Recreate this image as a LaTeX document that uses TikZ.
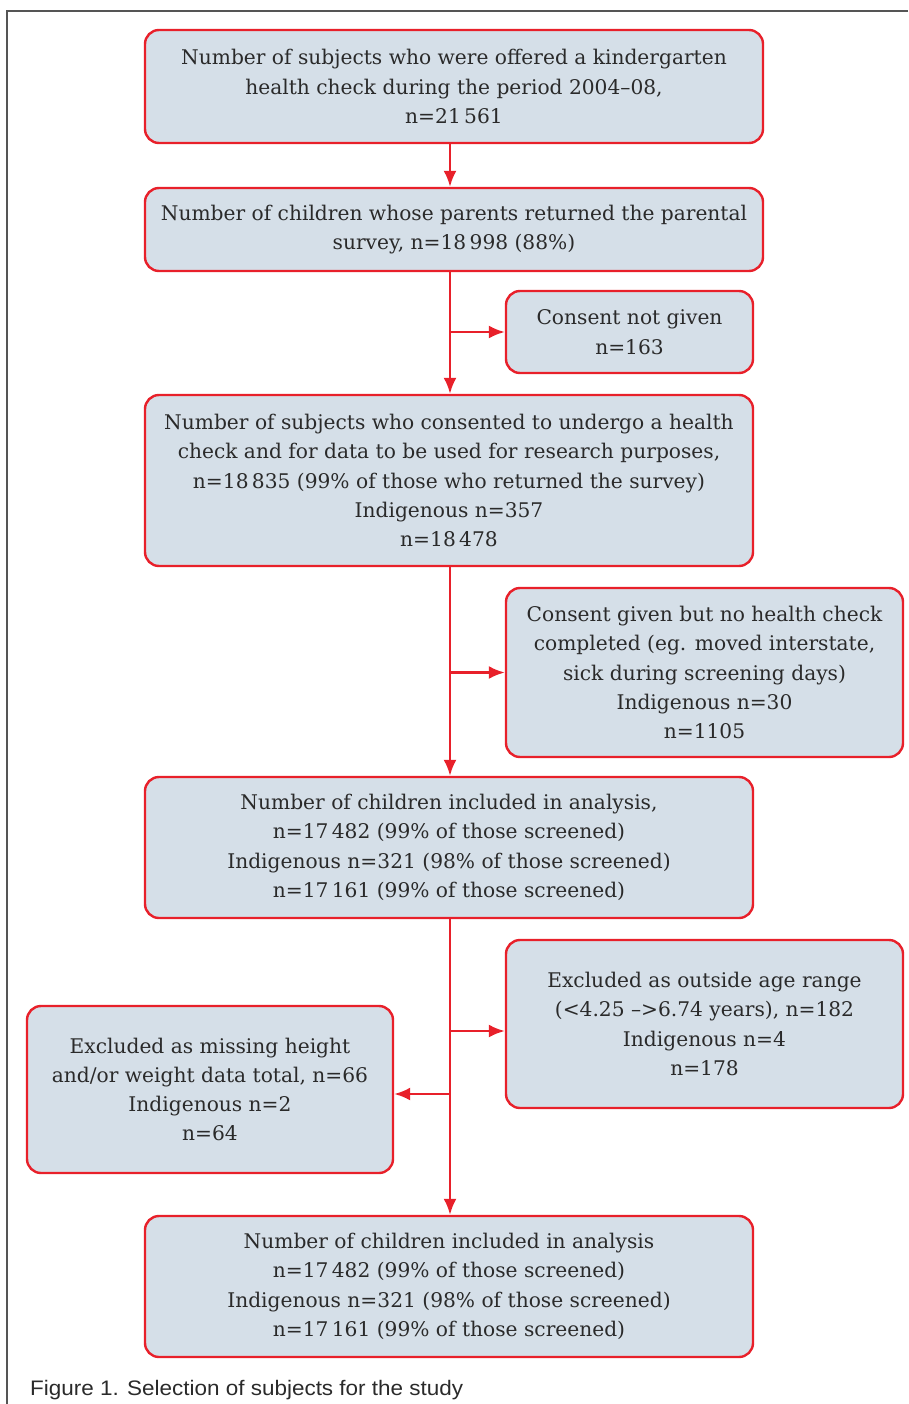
\documentclass[tikz,border=0pt]{standalone}
\usepackage{fontspec}
\setmainfont{DejaVu Serif}
\newfontfamily\capfont[FakeStretch=1.07]{Liberation Sans}
\usetikzlibrary{arrows.meta,positioning}
\definecolor{boxred}{HTML}{E8202A}
\definecolor{boxfill}{HTML}{D5DFE8}
\definecolor{ink}{HTML}{2A2A2A}

\begin{document}
\begin{tikzpicture}[x=1pt,y=-1pt,
  stage/.style={draw=boxred, fill=boxfill, line width=2.4pt, rounded corners=14pt,
    align=center, inner sep=0pt, text=ink, font=\fontsize{20.2}{29.3}\selectfont},
  arr/.style={draw=boxred, line width=2.4pt, -{Latex[length=16pt,width=13pt]}}]
\useasboundingbox (0,0) rectangle (908,1404);
\draw[ink!80, line width=1.2pt] (908,11) -- (7,11) -- (7,1404);
\node[stage, minimum width=618pt, minimum height=113pt] (offered) at (454,86.5)
  {Number of subjects who were offered a kindergarten\\health check during the period 2004--08,\\n=21\,561};
\node[stage, minimum width=618pt, minimum height=83pt] (returned) at (454,229.5)
  {Number of children whose parents returned the parental\\survey, n=18\,998 (88\%)};
\node[stage, minimum width=247pt, minimum height=82pt] (noconsent) at (629.5,332)
  {Consent not given\\n=163};
\node[stage, minimum width=608pt, minimum height=171pt] (consented) at (449,480.5)
  {Number of subjects who consented to undergo a health\\check and for data to be used for research purposes,\\n=18\,835 (99\% of those who returned the survey)\\Indigenous n=357\\n=18\,478};
\node[stage, minimum width=397pt, minimum height=169pt] (nocheck) at (704.5,672.5)
  {Consent given but no health check\\completed (eg. moved interstate,\\sick during screening days)\\Indigenous n=30\\n=1105};
\node[stage, minimum width=608pt, minimum height=141pt] (screened) at (449,847.5)
  {Number of children included in analysis,\\n=17\,482 (99\% of those screened)\\Indigenous n=321 (98\% of those screened)\\n=17\,161 (99\% of those screened)};
\node[stage, minimum width=397pt, minimum height=168pt] (agerange) at (704.5,1024)
  {Excluded as outside age range\\(<4.25 -->6.74 years), n=182\\Indigenous n=4\\n=178};
\node[stage, minimum width=366pt, minimum height=167pt] (missing) at (210,1089.5)
  {Excluded as missing height\\and/or weight data total, n=66\\Indigenous n=2\\n=64};
\node[stage, minimum width=608pt, minimum height=141pt] (analysed) at (449,1286.5)
  {Number of children included in analysis\\n=17\,482 (99\% of those screened)\\Indigenous n=321 (98\% of those screened)\\n=17\,161 (99\% of those screened)};
\node[anchor=base west, inner sep=0pt, text=ink, font=\capfont\fontsize{21}{24}\selectfont] (caption) at (30,1395)
  {Figure 1. Selection of subjects for the study};

\coordinate (trunk) at (450,0);
\draw[arr] (offered.south -| trunk) -- (returned.north -| trunk);
\draw[arr] (returned.south -| trunk) -- (consented.north -| trunk);
\draw[arr] (noconsent.west -| trunk) -- (noconsent.west);
\draw[arr] (consented.south -| trunk) -- (screened.north -| trunk);
\draw[arr] (nocheck.west -| trunk) -- (nocheck.west);
\draw[arr] (screened.south -| trunk) -- (analysed.north -| trunk);
\draw[arr] ([yshift=-7pt]agerange.west -| trunk) -- ([yshift=-7pt]agerange.west);
\draw[arr] ([yshift=-4.5pt]missing.east -| trunk) -- ([yshift=-4.5pt]missing.east);
\end{tikzpicture}
\end{document}
